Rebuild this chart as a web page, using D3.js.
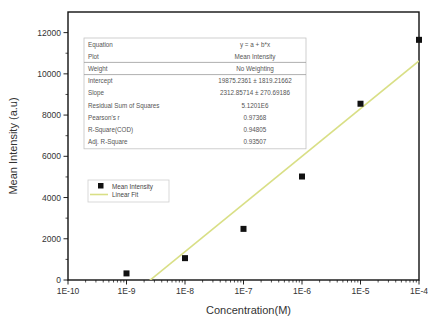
<!DOCTYPE html>
<html>
<head>
<meta charset="utf-8">
<script src="https://cdn.jsdelivr.net/npm/d3@7"></script>
<style>
  body { margin: 0; background: #fff; }
  text { font-family: Arial, "Liberation Sans", sans-serif; }
</style>
</head>
<body>
<svg id="chart" width="428" height="322"></svg>
<script>
// data
var concentration = [1e-9, 1e-8, 1e-7, 1e-6, 1e-5, 1e-4];
var intensity = [320, 1060, 2480, 5020, 8550, 11650];
var xTicks = [1e-10, 1e-9, 1e-8, 1e-7, 1e-6, 1e-5, 1e-4];
var xTickLabels = ["1E-10", "1E-9", "1E-8", "1E-7", "1E-6", "1E-5", "1E-4"];
var yTicks = [0, 2000, 4000, 6000, 8000, 10000, 12000];
var fitIntercept = 19875.2361;
var fitSlope = 2312.85714;
var tableNames = ["Equation", "Plot", "Weight", "Intercept", "Slope", "Residual Sum of Squares",
  "Pearson's r", "R-Square(COD)", "Adj. R-Square"];
var tableValues = ["y = a + b*x", "Mean Intensity", "No Weighting", "19875.2361 \u00b1 1819.21662",
  "2312.85714 \u00b1 270.69186", "5.1201E6", "0.97368", "0.94805", "0.93507"];

var svg = d3.select("#chart");
var mLeft = 68, mRight = 419, mTop = 12, mBottom = 280;

var x = d3.scaleLog().domain([1e-10, 1e-4]).range([mLeft, mRight]);
var y = d3.scaleLinear().domain([0, 13000]).range([mBottom, mTop]);

// clip for the fit line
svg.append("clipPath").attr("id", "clip")
  .append("rect").attr("x", mLeft).attr("y", mTop).attr("width", mRight - mLeft).attr("height", mBottom - mTop);

// minor ticks x
var minorX = [];
for (var e = -10; e < -4; e++) {
  for (var k = 2; k <= 9; k++) minorX.push(k * Math.pow(10, e));
}
svg.append("g").selectAll("line").data(minorX).enter().append("line")
  .attr("x1", d => x(d)).attr("x2", d => x(d))
  .attr("y1", mBottom).attr("y2", mBottom + 2.5)
  .attr("stroke", "#222").attr("stroke-width", 0.8);

// major x ticks
svg.append("g").selectAll("line").data(xTicks).enter().append("line")
  .attr("x1", d => x(d)).attr("x2", d => x(d))
  .attr("y1", mBottom).attr("y2", mBottom + 4.5)
  .attr("stroke", "#222").attr("stroke-width", 1);
svg.append("g").selectAll("text").data(xTicks).enter().append("text")
  .attr("x", d => x(d)).attr("y", mBottom + 14)
  .attr("text-anchor", "middle").attr("font-size", 8.5).attr("fill", "#333")
  .text((d, i) => xTickLabels[i]);

// y ticks
var minorY = d3.range(1000, 13000, 2000);
svg.append("g").selectAll("line").data(minorY).enter().append("line")
  .attr("x1", mLeft - 2.5).attr("x2", mLeft)
  .attr("y1", d => y(d)).attr("y2", d => y(d))
  .attr("stroke", "#222").attr("stroke-width", 0.8);
svg.append("g").selectAll("line").data(yTicks).enter().append("line")
  .attr("x1", mLeft - 4.5).attr("x2", mLeft)
  .attr("y1", d => y(d)).attr("y2", d => y(d))
  .attr("stroke", "#222").attr("stroke-width", 1);
svg.append("g").selectAll("text").data(yTicks).enter().append("text")
  .attr("x", mLeft - 7).attr("y", d => y(d) + 3)
  .attr("text-anchor", "end").attr("font-size", 8.5).attr("fill", "#333")
  .text(d => d);

// frame
svg.append("rect").attr("x", mLeft).attr("y", mTop)
  .attr("width", mRight - mLeft).attr("height", mBottom - mTop)
  .attr("fill", "none").attr("stroke", "#111").attr("stroke-width", 1.4);

// linear fit
var fitLine = d3.line()
  .x(d => x(d))
  .y(d => y(fitIntercept + fitSlope * Math.log10(d)));
svg.append("path")
  .datum([1e-10, 1e-4])
  .attr("d", fitLine)
  .attr("clip-path", "url(#clip)")
  .attr("fill", "none").attr("stroke", "#d9df86").attr("stroke-width", 1.6);

// points
svg.append("g").selectAll("rect").data(concentration).enter().append("rect")
  .attr("x", d => x(d) - 3).attr("y", (d, i) => y(intensity[i]) - 3)
  .attr("width", 6).attr("height", 6).attr("fill", "#111");

// fit table
var tx = 84, ty = 38, rowH = 12.2, tw = 222;
var table = svg.append("g");
table.append("rect").attr("x", tx).attr("y", ty).attr("width", tw).attr("height", rowH * 9 + 1)
  .attr("fill", "#fff").attr("stroke", "#c4c4c4").attr("stroke-width", 0.8);
[2, 3].forEach(function (r) {
  table.append("line").attr("x1", tx).attr("x2", tx + tw)
    .attr("y1", ty + rowH * r).attr("y2", ty + rowH * r)
    .attr("stroke", "#9a9a9a").attr("stroke-width", 0.8);
});
table.selectAll(".nm").data(tableNames).enter().append("text")
  .attr("x", tx + 4).attr("y", (d, i) => ty + rowH * i + 8.6)
  .attr("font-size", 6.3).attr("fill", "#555").text(d => d);
table.selectAll(".vl").data(tableValues).enter().append("text")
  .attr("x", tx + 171).attr("y", (d, i) => ty + rowH * i + 8.6)
  .attr("text-anchor", "middle")
  .attr("font-size", 6.3).attr("fill", "#555").text(d => d);

// legend
var legend = svg.append("g");
legend.append("rect").attr("x", 88).attr("y", 180).attr("width", 81).attr("height", 22)
  .attr("fill", "#fff").attr("stroke", "#cfcfcf").attr("stroke-width", 0.8);
legend.append("rect").attr("x", 98).attr("y", 183).attr("width", 5.5).attr("height", 5.5).attr("fill", "#111");
legend.append("text").attr("x", 112).attr("y", 188.5).attr("font-size", 6.3).attr("fill", "#444").text("Mean Intensity");
legend.append("line").attr("x1", 90).attr("x2", 108).attr("y1", 194.5).attr("y2", 194.5)
  .attr("stroke", "#d9df86").attr("stroke-width", 1.6);
legend.append("text").attr("x", 112).attr("y", 197).attr("font-size", 6.3).attr("fill", "#444").text("Linear Fit");

// axis titles
svg.append("text").attr("x", (mLeft + mRight) / 2 + 5).attr("y", 314)
  .attr("text-anchor", "middle").attr("font-size", 11).attr("fill", "#333")
  .text("Concentration(M)");
svg.append("text").attr("transform", "translate(17," + ((mTop + mBottom) / 2) + ") rotate(-90)")
  .attr("text-anchor", "middle").attr("font-size", 11).attr("fill", "#333")
  .text("Mean Intensity (a.u)");
</script>
</body>
</html>
